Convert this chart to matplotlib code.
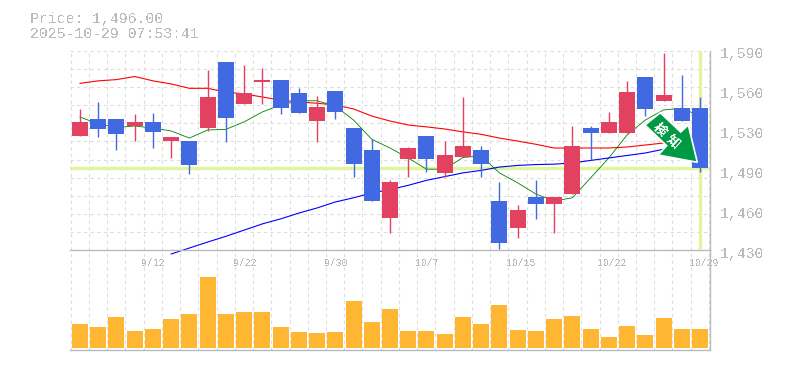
import numpy as np
import matplotlib
matplotlib.use("Agg")
import matplotlib.pyplot as plt
from matplotlib.patches import Polygon
from matplotlib.transforms import Affine2D

plt.rcParams['text.antialiased'] = False

#Candles
opens = [1522,1535,1535,1530,1533,1518,1518,1528,1581,1547,1565,1567,1556,1534,1558,1528,1510,1456,
         1503,1522,1492,1505,1510,1469,1448,1473,1467,1475,1528,1524,1524,1569,1550,1544,1544]
closes = [1533,1527,1523,1533,1525,1521,1498,1553,1536,1556,1567,1544,1540,1545,1541,1499,1469,1485,
          1512,1503,1506,1514,1499,1436,1462,1467,1473,1514,1524,1533,1557,1543,1555,1534,1496]
highs = [1543,1549,1535,1539,1540,1521,1518,1575,1581,1579,1576,1567,1560,1554,1558,1528,1519,1486,
         1513,1522,1518,1553,1514,1485,1466,1486,1473,1530,1530,1541,1566,1569,1588,1571,1553]
lows = [1522,1521,1510,1518,1512,1504,1491,1526,1517,1547,1547,1539,1540,1517,1535,1489,1469,1444,
        1489,1493,1489,1505,1489,1431,1440,1455,1444,1475,1502,1524,1524,1538,1550,1534,1493]
volume = [24,21,31,17,19,29,34,71,34,36,36,21,16,15,16,47,26,39,17,17,14,31,24,43,18,17,29,32,19,11,22,13,30,19,19]

#Moving averages
ma_red = [1564,1566,1567,1569.5,1566,1563.5,1560,1560,1557,1555.5,1553,1550.6,1549,1548,1546.6,1543.4,1537.7,1533.7,
          1530.5,1529,1527.3,1525,1523,1520,1517.6,1515,1512,1512,1512,1512,1512.8,1514.4,1516,1516.8,1517.6]
ma_green = [1537,1531.3,1528.5,1529.7,1528,1525.7,1520,1526.5,1527,1533,1541,1546.6,1550,1550,1545.8,1534.5,1519,1512,
            1504,1495,1495,1504.4,1505.6,1492,1484,1475,1469.4,1472,1488,1504,1522.5,1534.5,1542.6,1544,1537.7]
ma_blue = [1426.8,1431.6,1436.4,1441,1446,1451,1455,1459.7,1463.8,1468.6,1472,1475.8,1478.6,1482,1486,1489,1492,1494,
           1496.7,1498,1498.7,1499,1500,1502,1504,1506,1508,1511,1513,1514.4]
ma_blue_start = 5

last_price = 1496
price_labels = ["1,590","1,560","1,530","1,490","1,460","1,430"]
date_idx = [4,9,14,19,24,29,34]
date_labels = ["9/12","9/22","9/30","10/7","10/15","10/22","10/29"]

RED = "#E2415F"
BLUE = "#4169E1"
GRAY = "#BBBBBB"
GRID = "#DDDDDD"
HILITE = "#DFF5A0"
W, H = 785, 370

x = np.arange(len(closes))
fig = plt.figure(figsize=(W/100, H/100), dpi=100)
ax = fig.add_axes([70/W, (H-250)/H, 640/W, 199/H])
ax2 = fig.add_axes([70/W, (H-350)/H, 640/W, 100/H])
ax.set_zorder(3)
ax.patch.set_visible(False)

for a in (ax, ax2):
    a.set_xlim(-0.548, 34.548)
    a.set_xticks(np.arange(0, 36) - 0.51)
    a.tick_params(length=0, labelbottom=False, labelleft=False)
    a.grid(axis='x', color=GRID, lw=0.8, ls=(0, (3, 3)), zorder=0)
    a.set_axisbelow(True)
    for s in a.spines.values():
        s.set_visible(False)
    a.spines['right'].set_visible(True)
    a.spines['bottom'].set_visible(True)
    a.spines['right'].set_color(GRAY)
    a.spines['bottom'].set_color(GRAY)
    a.spines['right'].set_linewidth(1.0)
    a.spines['bottom'].set_linewidth(1.0)

#Price panel
ax.set_ylim(1430, 1590)
ax.set_yticks(np.linspace(1430, 1590, 12))
ax.grid(axis='y', color=GRID, lw=0.8, ls=(0, (3, 3)), zorder=0)

ax.axhline(last_price, color=HILITE, lw=2.4, zorder=1)
ax.vlines(x[-1], 1431, 1590, color=HILITE, lw=2.4, zorder=1)

ax.plot(x, ma_red, color="#FF0000", lw=0.8, zorder=2)
ax.plot(x, ma_green, color="#008000", lw=0.6, zorder=2)
ax.plot(x[ma_blue_start:], ma_blue, color="#0000FF", lw=0.8, zorder=2, clip_on=False)

colors = [RED if c >= o else BLUE for o, c in zip(opens, closes)]
ax.vlines(x, lows, highs, colors=colors, lw=1.0, zorder=3)
ax.bar(x, np.array(closes) - np.array(opens), bottom=opens, width=16/18.235, color=colors, zorder=3)

#Signal arrow, placed in pixels from the top left
to_px = Affine2D().scale(1, -1).translate(0, H)
arrow = [(645,125),(660.3,112.7),(680.7,132),(688.3,125),(697.3,162.3),(658.3,155),(666.7,145.7)]
fig.add_artist(Polygon(arrow, closed=True, facecolor="#009944", edgecolor="white", lw=1.2, transform=to_px, zorder=5))
mark_text = ["検", "知"]
mark_x = [660, 673]
mark_y = [130, 141]
for t, mx, my in zip(mark_text, mark_x, mark_y):
    fig.text(mx/W, 1-my/H, t, color="white", fontsize=9.5, fontweight='bold', rotation=-42,
             ha='center', va='center', rotation_mode='anchor', family=['Noto Sans CJK JP', 'DejaVu Sans'], zorder=6)

#Volume panel
ax2.set_ylim(-2, 98)
ax2.set_yticks([])
ax2.bar(x, volume, width=16/18.235, color="#FFB733", zorder=3)

#Texts
mono = dict(family='Liberation Mono', color=GRAY)
fig.text(30/W, 1-19/H, "Price: 1,496.00", fontsize=10.7, va='center', **mono)
fig.text(30/W, 1-34/H, "2025-10-29 07:53:41", fontsize=10.7, va='center', **mono)
for k, lab in enumerate(price_labels):
    fig.text(720/W, 1-(54+40*k)/H, lab, fontsize=10.7, va='center', **mono)
for i, lab in zip(date_idx, date_labels):
    ax.annotate(lab, xy=(i, 0), xycoords=('data', 'axes fraction'), xytext=(-8, -9), textcoords='offset points',
                fontsize=7, ha='left', va='center', annotation_clip=False, **mono)

fig.savefig("out.png", dpi=100)
